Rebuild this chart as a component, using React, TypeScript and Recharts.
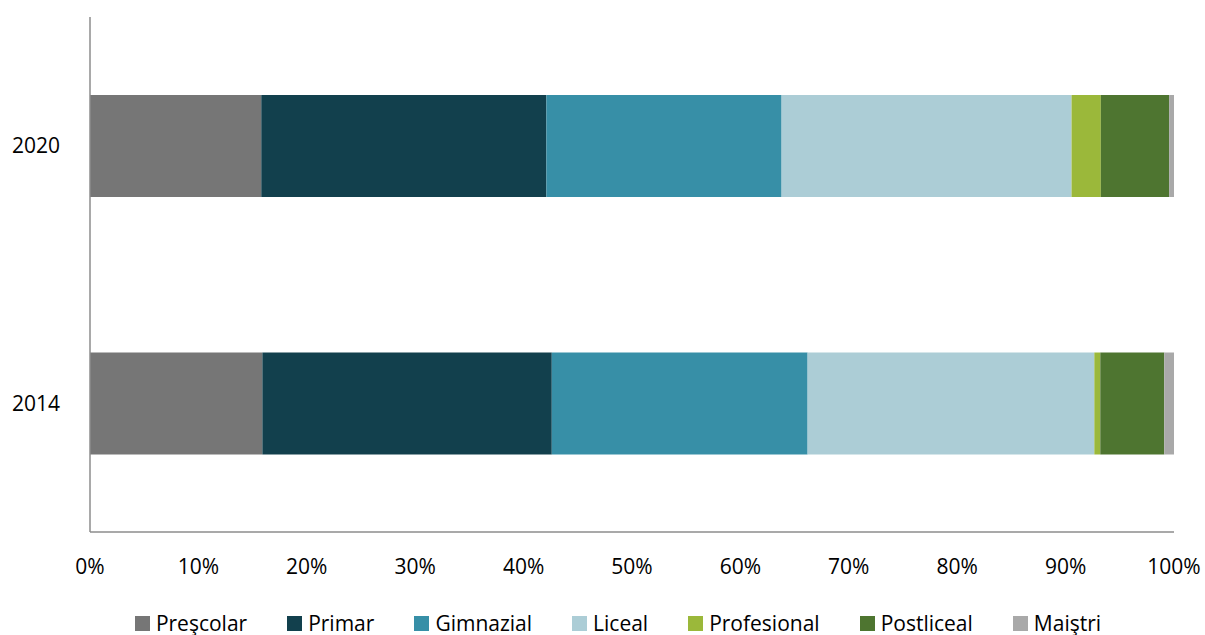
import { BarChart, Bar, XAxis, YAxis, Legend } from 'recharts';

const years = ['2020', '2014'];
const prescolar = [15.8, 15.9];
const primar = [26.3, 26.7];
const gimnazial = [21.7, 23.6];
const liceal = [26.75, 26.45];
const profesional = [2.7, 0.55];
const postliceal = [6.3, 5.9];
const maistri = [0.45, 0.9];
const xTicks = [0, 0.1, 0.2, 0.3, 0.4, 0.5, 0.6, 0.7, 0.8, 0.9, 1];

const series = [
  { key: 'Preşcolar', values: prescolar, color: '#767676' },
  { key: 'Primar', values: primar, color: '#12404D' },
  { key: 'Gimnazial', values: gimnazial, color: '#378FA7' },
  { key: 'Liceal', values: liceal, color: '#ACCDD6' },
  { key: 'Profesional', values: profesional, color: '#9BB83A' },
  { key: 'Postliceal', values: postliceal, color: '#4E7530' },
  { key: 'Maiştri', values: maistri, color: '#A9A9A9' },
];

const data = years.map((year, i) => {
  const row: Record<string, string | number> = { year };
  series.forEach((s) => {
    row[s.key] = s.values[i];
  });
  return row;
});

const font = '"Open Sans", sans-serif';

// legend sits a bit right of centre in the original
const renderLegend = () => (
  <div
    style={{
      display: 'flex',
      justifyContent: 'center',
      fontFamily: font,
      fontSize: 21,
      color: '#000',
      gap: 40,
      paddingTop: 14,
      paddingLeft: 62,
    }}
  >
    {series.map((s) => (
      <div key={s.key} style={{ display: 'flex', alignItems: 'center' }}>
        <span style={{ width: 15, height: 15, background: s.color, marginRight: 6, display: 'inline-block' }} />
        <span>{s.key}</span>
      </div>
    ))}
  </div>
);

export default function App() {
  return (
    <div style={{ position: 'absolute', left: 0, top: 0, background: '#fff' }}>
      <BarChart
        width={1205}
        height={635}
        data={data}
        layout="vertical"
        stackOffset="expand"
        barSize={102}
        margin={{ top: 17, right: 31, left: 0, bottom: 5 }}
      >
        <XAxis
          type="number"
          domain={[0, 1]}
          ticks={xTicks}
          tickFormatter={(v: number) => `${Math.round(v * 100)}%`}
          tick={{ fontSize: 21, fill: '#000', fontFamily: font }}
          axisLine={{ stroke: '#8C8C8C', strokeWidth: 1.5 }}
          tickLine={false}
          tickMargin={21}
          height={63}
          interval={0}
        />
        <YAxis
          type="category"
          dataKey="year"
          width={90}
          tick={{ fontSize: 21, fill: '#000', fontFamily: font }}
          axisLine={{ stroke: '#8C8C8C', strokeWidth: 1.5 }}
          tickLine={false}
          tickMargin={24}
        />
        <Legend verticalAlign="bottom" height={35} content={renderLegend} />
        {series.map((s) => (
          <Bar key={s.key} dataKey={s.key} stackId="a" fill={s.color} isAnimationActive={false} />
        ))}
      </BarChart>
    </div>
  );
}
